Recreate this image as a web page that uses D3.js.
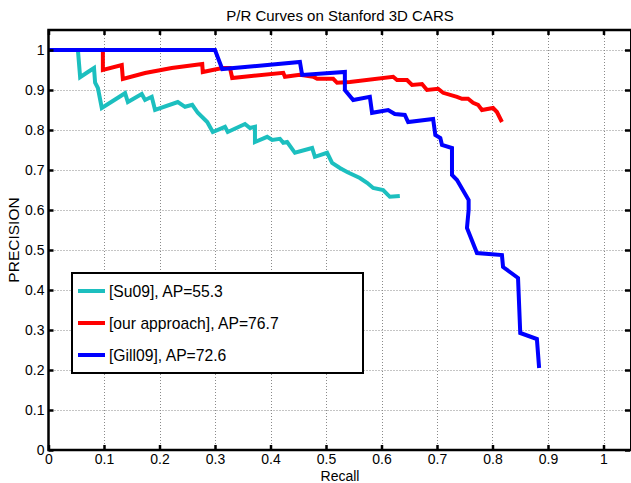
<!DOCTYPE html>
<html>
<head>
<meta charset="utf-8">
<script src="https://cdn.jsdelivr.net/npm/d3@7"></script>
<style>
  body { margin: 0; background: #fff; }
  text { font-family: "Liberation Sans", Arial, sans-serif; }
</style>
</head>
<body>
<div id="chart"></div>
<script>
// P/R curves, values
var su09Recall = [0, 0.053, 0.057, 0.071, 0.082, 0.084, 0.089, 0.096, 0.138, 0.143, 0.168, 0.174, 0.186, 0.192,
  0.233, 0.246, 0.259, 0.269, 0.286, 0.296, 0.318, 0.323, 0.354, 0.363, 0.372, 0.372, 0.394, 0.403, 0.417,
  0.423, 0.43, 0.444, 0.475, 0.48, 0.502, 0.511, 0.525, 0.538, 0.561, 0.574, 0.585, 0.603, 0.615, 0.633];
var su09Precision = [1, 1, 0.932, 0.945, 0.955, 0.918, 0.905, 0.855, 0.892, 0.87, 0.89, 0.875, 0.883, 0.85,
  0.87, 0.858, 0.863, 0.843, 0.82, 0.795, 0.808, 0.795, 0.815, 0.805, 0.808, 0.77, 0.783, 0.775, 0.778,
  0.768, 0.77, 0.743, 0.755, 0.733, 0.743, 0.718, 0.705, 0.695, 0.68, 0.668, 0.655, 0.65, 0.633, 0.635];

var oursRecall = [0, 0.098, 0.098, 0.132, 0.134, 0.174, 0.222, 0.277, 0.278, 0.313, 0.327, 0.331, 0.423, 0.426,
  0.453, 0.477, 0.484, 0.513, 0.52, 0.543, 0.621, 0.628, 0.646, 0.655, 0.673, 0.682, 0.702, 0.711, 0.736,
  0.745, 0.756, 0.765, 0.774, 0.781, 0.801, 0.808, 0.817];
var oursPrecision = [1, 1, 0.95, 0.9625, 0.9275, 0.9425, 0.955, 0.965, 0.945, 0.955, 0.955, 0.93, 0.943, 0.933,
  0.938, 0.933, 0.928, 0.928, 0.918, 0.92, 0.933, 0.925, 0.925, 0.9125, 0.915, 0.9, 0.903, 0.893, 0.883,
  0.878, 0.878, 0.868, 0.863, 0.85, 0.855, 0.845, 0.82];

var gillRecall = [0, 0.3, 0.313, 0.453, 0.457, 0.534, 0.534, 0.549, 0.579, 0.583, 0.612, 0.624, 0.642, 0.648,
  0.693, 0.697, 0.706, 0.709, 0.727, 0.727, 0.736, 0.757, 0.757, 0.754, 0.772, 0.817, 0.819, 0.846, 0.85,
  0.88, 0.884];
var gillPrecision = [1, 1, 0.9525, 0.97, 0.9375, 0.945, 0.9, 0.875, 0.883, 0.843, 0.85, 0.84, 0.8375, 0.82,
  0.8275, 0.7875, 0.78, 0.7625, 0.755, 0.6875, 0.675, 0.625, 0.6, 0.555, 0.4925, 0.4875, 0.4575, 0.43, 0.2925,
  0.2775, 0.205];

var seriesNames = ["[Su09], AP=55.3", "[our approach], AP=76.7", "[Gill09], AP=72.6"];
var seriesColors = ["#1cbfbf", "#ff0000", "#0000ff"];
var xTicks = [0, 0.1, 0.2, 0.3, 0.4, 0.5, 0.6, 0.7, 0.8, 0.9, 1];
var yTicks = [0, 0.1, 0.2, 0.3, 0.4, 0.5, 0.6, 0.7, 0.8, 0.9, 1];

var svgWidth = 631;
var svgHeight = 483;

var svg = d3.select("#chart").append("svg")
    .attr("width", svgWidth)
    .attr("height", svgHeight);

var x = d3.scaleLinear().domain([0, 1.05]).range([48.5, 631.25]);
var y = d3.scaleLinear().domain([0, 1.05]).range([450, 30]);

// grid
var grid = svg.append("g")
    .attr("stroke", "#8a8a8a")
    .attr("stroke-width", 1)
    .attr("stroke-dasharray", "1,2");
grid.selectAll(".gx").data(xTicks.slice(1)).enter().append("line")
    .attr("x1", d => Math.round(x(d)) + 0.5).attr("x2", d => Math.round(x(d)) + 0.5)
    .attr("y1", y(0)).attr("y2", y(1.05));
grid.selectAll(".gy").data(yTicks.slice(1)).enter().append("line")
    .attr("y1", d => Math.round(y(d)) + 0.5).attr("y2", d => Math.round(y(d)) + 0.5)
    .attr("x1", x(0)).attr("x2", x(1.05));

// curves
var line = d3.line().x(d => x(d[0])).y(d => y(d[1]));
var curves = [
    d3.zip(su09Recall, su09Precision),
    d3.zip(oursRecall, oursPrecision),
    d3.zip(gillRecall, gillPrecision)
];
svg.append("g").selectAll("path").data(curves).enter().append("path")
    .attr("d", line)
    .attr("fill", "none")
    .attr("stroke", (d, i) => seriesColors[i])
    .attr("stroke-width", 4)
    .attr("stroke-linejoin", "miter");

// axes with inward ticks on all four sides
var bottomAxis = d3.axisBottom(x).tickValues(xTicks).tickSize(-5).tickPadding(4).tickFormat(d3.format("~g"));
var leftAxis = d3.axisLeft(y).tickValues(yTicks).tickSize(-5).tickPadding(4).tickFormat(d3.format("~g"));
var topAxis = d3.axisTop(x).tickValues(xTicks).tickSize(-5).tickFormat("");
var rightAxis = d3.axisRight(y).tickValues(yTicks).tickSize(-5).tickFormat("");

function styleAxis(g) {
    g.select(".domain").remove();
    g.selectAll(".tick line").attr("stroke", "#000").attr("stroke-width", 2.5);
    g.selectAll(".tick text").attr("font-size", 14).attr("fill", "#000")
        .style("font-family", "'Liberation Sans', Arial, sans-serif");
}
svg.append("g").attr("transform", "translate(0,450)").call(bottomAxis).call(styleAxis);
svg.append("g").attr("transform", "translate(48.5,0)").call(leftAxis).call(styleAxis);
svg.append("g").attr("transform", "translate(0,30)").call(topAxis).call(styleAxis);
svg.append("g").attr("transform", "translate(630,0)").call(rightAxis).call(styleAxis);

// frame
svg.append("rect")
    .attr("x", x(0)).attr("y", y(1.05))
    .attr("width", x(1.05) - x(0)).attr("height", y(0) - y(1.05))
    .attr("fill", "none").attr("stroke", "#000").attr("stroke-width", 2.5);

// labels
svg.append("text").attr("x", 340).attr("y", 21).attr("text-anchor", "middle")
    .attr("font-size", 15).text("P/R Curves on Stanford 3D CARS");
svg.append("text").attr("x", 340).attr("y", 481).attr("text-anchor", "middle")
    .attr("font-size", 14).text("Recall");
svg.append("text").attr("transform", "translate(19,240) rotate(-90)").attr("text-anchor", "middle")
    .attr("font-size", 15.5).text("PRECISION");

// legend
var legend = svg.append("g");
legend.append("rect")
    .attr("x", 72).attr("y", 273).attr("width", 291).attr("height", 100)
    .attr("fill", "#fff").attr("stroke", "#000").attr("stroke-width", 2);
var items = legend.selectAll(".item").data(seriesNames).enter().append("g")
    .attr("transform", (d, i) => `translate(0, ${291 + i * 32})`);
items.append("line")
    .attr("x1", 78).attr("x2", 105).attr("y1", 0).attr("y2", 0)
    .attr("stroke", (d, i) => seriesColors[i]).attr("stroke-width", 4);
items.append("text")
    .attr("x", 109).attr("y", 6).attr("font-size", 15.7)
    .text(d => d);
</script>
</body>
</html>
